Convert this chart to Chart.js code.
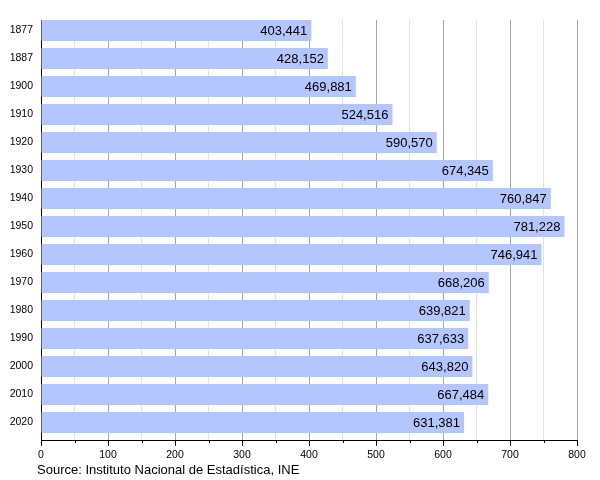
<!DOCTYPE html>
<html lang="en">
<head>
    <meta charset="UTF-8">
    <title>Population 1877-2020</title>
    <script src="https://cdn.jsdelivr.net/npm/chart.js"></script>
    <style>
        html, body { margin: 0; padding: 0; background: #fff; }
        #wrap { width: 600px; height: 480px; position: relative; }
    </style>
</head>
<body>
    <div id="wrap">
        <canvas id="popChart"></canvas>
    </div>

    <script>
        // Census years and population
        const years = ['1877', '1887', '1900', '1910', '1920', '1930', '1940', '1950',
                       '1960', '1970', '1980', '1990', '2000', '2010', '2020'];
        const population = [403441, 428152, 469881, 524516, 590570, 674345, 760847, 781228,
                            746941, 668206, 639821, 637633, 643820, 667484, 631381];
        const sourceText = 'Source: Instituto Nacional de Estadística, INE';

        const FONT = '"Liberation Sans", Arial, sans-serif';
        const isMajor = function(v) { return v % 100000 === 0; };

        // Value labels inside the end of each bar, short minor ticks, source line
        const extras = {
            id: 'extras',
            afterDatasetsDraw(chart) {
                const ctx = chart.ctx;
                const meta = chart.getDatasetMeta(0);
                ctx.save();
                ctx.font = '13px ' + FONT;
                ctx.fillStyle = '#000';
                ctx.textAlign = 'right';
                ctx.textBaseline = 'middle';
                meta.data.forEach(function(bar, i) {
                    ctx.fillText(population[i].toLocaleString('en-US'), bar.x - 4, bar.y + 1);
                });
                ctx.restore();
            },
            afterDraw(chart) {
                const ctx = chart.ctx;
                const xs = chart.scales.x;
                ctx.save();
                ctx.strokeStyle = '#000';
                ctx.lineWidth = 1;
                ctx.beginPath();
                xs.ticks.forEach(function(t) {
                    if (isMajor(t.value)) return;
                    const px = Math.round(xs.getPixelForValue(t.value)) + 0.5;
                    ctx.moveTo(px, xs.top);
                    ctx.lineTo(px, xs.top + 3);
                });
                ctx.stroke();
                ctx.font = '13px ' + FONT;
                ctx.fillStyle = '#000';
                ctx.textAlign = 'left';
                ctx.textBaseline = 'middle';
                ctx.fillText(sourceText, 37, 470);
                ctx.restore();
            }
        };

        document.addEventListener('DOMContentLoaded', function() {
            const ctx = document.getElementById('popChart').getContext('2d');
            new Chart(ctx, {
                type: 'bar',
                data: {
                    datasets: [{
                        data: population.map(function(v, i) { return { x: v, y: i }; }),
                        backgroundColor: '#b3c6ff',
                        borderWidth: 0,
                        barPercentage: 0.75,
                        categoryPercentage: 1.0
                    }]
                },
                options: {
                    indexAxis: 'y',
                    responsive: true,
                    maintainAspectRatio: false,
                    animation: false,
                    layout: { padding: { top: 20, right: 23, left: 0, bottom: 18 } },
                    plugins: {
                        legend: { display: false },
                        tooltip: { enabled: false }
                    },
                    scales: {
                        x: {
                            type: 'linear',
                            min: 0,
                            max: 800000,
                            afterFit: function(scale) { scale.height = 22; },
                            ticks: {
                                stepSize: 50000,
                                autoSkip: false,
                                maxRotation: 0,
                                padding: 3,
                                color: '#000',
                                font: { family: FONT, size: 10.5 },
                                callback: function(v) { return isMajor(v) ? String(v / 1000) : ''; }
                            },
                            grid: {
                                color: function(c) {
                                    return c.tick && isMajor(c.tick.value) ? '#a6a6a6' : '#e2e2e2';
                                },
                                tickColor: function(c) {
                                    return c.tick && isMajor(c.tick.value) ? '#000' : 'rgba(0,0,0,0)';
                                },
                                tickLength: 6
                            },
                            border: { color: '#000', width: 1 }
                        },
                        y: {
                            type: 'linear',
                            reverse: true,
                            offset: false,
                            min: -0.375,
                            max: years.length - 0.375,
                            afterFit: function(scale) { scale.width = 41; },
                            afterBuildTicks: function(scale) {
                                scale.ticks = years.map(function(_, i) { return { value: i }; });
                            },
                            ticks: {
                                autoSkip: false,
                                padding: 8,
                                color: '#000',
                                font: { family: FONT, size: 10.5 },
                                callback: function(v) { return years[v]; }
                            },
                            grid: { display: false, drawTicks: false, offset: false },
                            border: { color: '#000', width: 1 }
                        }
                    }
                },
                plugins: [extras]
            });
        });
    </script>
</body>
</html>
